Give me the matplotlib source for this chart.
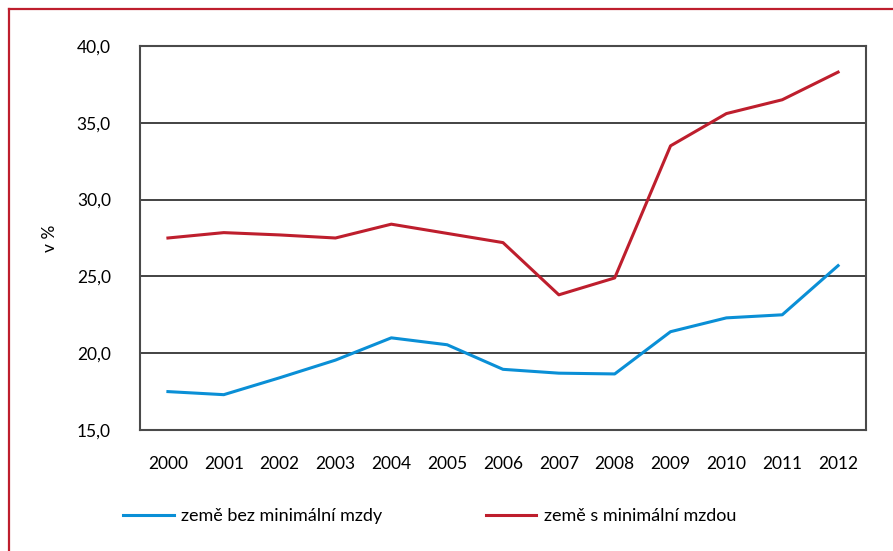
import matplotlib
matplotlib.use("Agg")
import matplotlib.pyplot as plt
from matplotlib.lines import Line2D
from matplotlib.ticker import FuncFormatter

years = [str(y) for y in range(2000, 2013)]
bez_mzdy = [17.5, 17.3, 18.4, 19.55, 21.0, 20.55, 18.95, 18.7, 18.65, 21.4, 22.3, 22.5, 25.7]
s_mzdou = [27.5, 27.85, 27.7, 27.5, 28.4, 27.8, 27.2, 23.8, 24.9, 33.5, 35.6, 36.5, 38.3]
labels = ["země bez minimální mzdy", "země s minimální mzdou"]

BLUE = "#0a8fd6"
RED = "#be1e2d"

plt.rcParams['font.family'] = ['Lato', 'DejaVu Sans']
plt.rcParams['font.size'] = 12

fig = plt.figure(figsize=(8.93, 5.51), dpi=100)
ax = fig.add_axes([140 / 893, 1 - 430 / 551, 726 / 893, 384 / 551])

x = range(len(years))
l1, = ax.plot(x, bez_mzdy, color=BLUE, lw=2.2, label=labels[0])
l2, = ax.plot(x, s_mzdou, color=RED, lw=2.2, label=labels[1])

ax.set_xlim(-0.5, len(years) - 0.5)
ax.set_ylim(15, 40)
ax.set_xticks(list(x))
ax.set_xticklabels(years)
ax.set_yticks([15, 20, 25, 30, 35, 40])
ax.yaxis.set_major_formatter(FuncFormatter(lambda v, p: f"{v:.1f}".replace(".", ",")))
ax.tick_params(length=0, labelsize=12.5)
ax.tick_params(axis='y', pad=21)
ax.tick_params(axis='x', pad=19)

ax.grid(axis='y', color='#222222', lw=1.2)
ax.set_axisbelow(True)
for s in ax.spines.values():
    s.set_color('#4a4a4a')
    s.set_linewidth(1.5)

ax.set_ylabel("v %", fontsize=12.5)
ax.yaxis.set_label_coords(-0.113, 0.5)

fig.legend(handles=[l1, l2], loc='center left',
           bbox_to_anchor=(123 / 893, 1 - 516 / 551), ncol=2, frameon=False,
           borderpad=0, borderaxespad=0, handlelength=2.8, handletextpad=0.4,
           columnspacing=5.75, fontsize=13)

# red frame round the figure (only top and left edges visible)
fig.add_artist(Line2D([8.5 / 893, 8.5 / 893], [0, 1 - 9 / 551], color=RED, lw=1.6,
                      transform=fig.transFigure))
fig.add_artist(Line2D([8.5 / 893, 1], [1 - 9 / 551, 1 - 9 / 551], color=RED, lw=1.6,
                      transform=fig.transFigure))

fig.savefig("out.png", dpi=100)
